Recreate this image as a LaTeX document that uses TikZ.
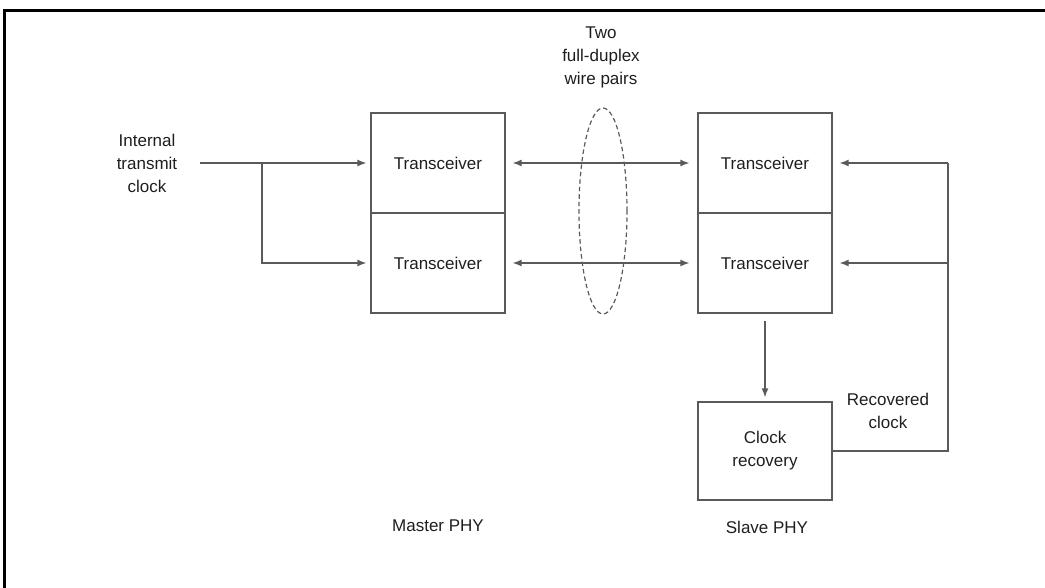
\documentclass[tikz,border=0pt]{standalone}
\usepackage{fontspec}
\setmainfont{Liberation Sans}
\usetikzlibrary{arrows.meta}
\definecolor{ln}{HTML}{5A5A5A}
\definecolor{tx}{HTML}{1E1E1E}
\begin{document}
\begin{tikzpicture}[x=1pt,y=-1pt,
  every node/.style={font=\fontsize{17}{23}\selectfont, text=tx},
  box/.style={draw=ln, line width=1.3pt, minimum width=134pt, minimum height=100pt, inner sep=0pt},
  lbl/.style={align=center, inner sep=0pt},
  conn/.style={draw=ln, line width=1.3pt},
  arr/.style={conn, -{Latex[length=9pt,width=7pt]}},
  darr/.style={conn, {Latex[length=9pt,width=7pt]}-{Latex[length=9pt,width=7pt]}}]
\useasboundingbox (0,0) rectangle (1045,588);
\draw[line width=3pt, black] (4.5,588) -- (4.5,10.5) -- (1045,10.5);

% boxes
\node[box] (mt) at (438,163) {Transceiver};
\node[box] (mb) at (438,263) {Transceiver};
\node[box] (st) at (765,163) {Transceiver};
\node[box] (sb) at (765,263) {Transceiver};
\node[box, minimum height=98pt, align=center] (cr) at (765,451) {Clock\\recovery};

% labels
\node[lbl] (two) at (601,57) {Two\\full-duplex\\wire pairs};
\node[lbl] (itc) at (147,163) {Internal\\transmit\\clock};
\node[lbl] (mphy) at (438,526) {Master PHY};
\node[lbl] (sphy) at (767,527) {Slave PHY};
\node[lbl] (rcl) at (888,411) {Recovered\\clock};

% wire pairs ellipse
\draw[conn, line width=1.2pt, dash pattern=on 4.5pt off 3pt] (603,211) ellipse [x radius=24pt, y radius=103pt];

% master inputs
\coordinate (in) at (200,163);
\coordinate (br) at (262,163);
\draw[arr, shorten >=4pt] (in) -- (mt.west);
\draw[arr, shorten >=4pt] (br) |- (mb.west);

% full-duplex links
\draw[darr, shorten <=7pt, shorten >=8pt] (mt.east) -- (st.west);
\draw[darr, shorten <=7pt, shorten >=8pt] (mb.east) -- (sb.west);

% slave to clock recovery
\draw[arr, shorten <=7pt, shorten >=4pt] (sb.south) -- (cr.north);

% recovered clock feedback
\coordinate (rc) at (948,451);
\coordinate (rt) at (948,163);
\coordinate (rb) at (948,263);
\draw[conn] (cr.east) -- (rc) -- (rt);
\draw[arr, shorten >=7pt] (rt) -- (st.east);
\draw[arr, shorten >=7pt] (rb) -- (sb.east);
\end{tikzpicture}
\end{document}
